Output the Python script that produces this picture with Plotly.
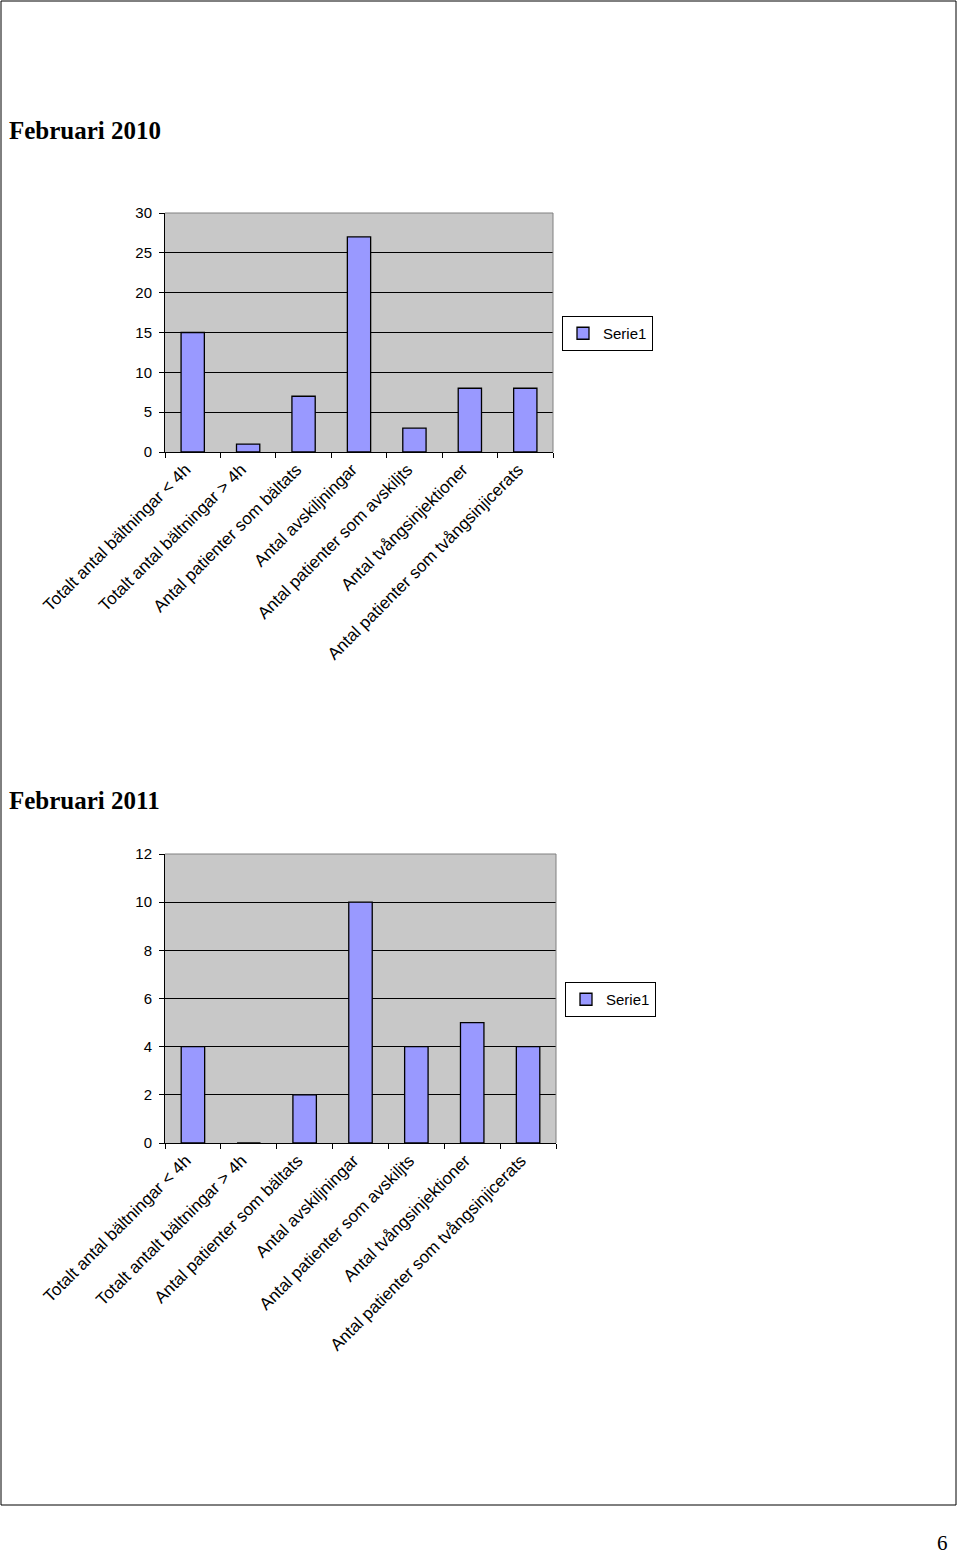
import plotly.graph_objects as go

W, H = 960, 1554

cats_2010 = ["Totalt antal bältningar < 4h", "Totalt antal bältningar > 4h",
             "Antal patienter som bältats", "Antal avskiljningar",
             "Antal patienter som avskiljts", "Antal tvångsinjektioner",
             "Antal patienter som tvångsinjicerats"]
vals_2010 = [15, 1, 7, 27, 3, 8, 8]

cats_2011 = ["Totalt antal bältningar < 4h", "Totalt antalt bältningar > 4h",
             "Antal patienter som bältats", "Antal avskiljningar",
             "Antal patienter som avskiljts", "Antal tvångsinjektioner",
             "Antal patienter som tvångsinjicerats"]
vals_2011 = [4, 0, 2, 10, 4, 5, 4]

series_name = "Serie1"
title_2010 = "Februari 2010"
title_2011 = "Februari 2011"
page_no = "6"

BAR = "#9999FF"
BG = "#c8c8c8"
FONT = "Liberation Sans, Arial, sans-serif"

def px_x(p):
    return p / W

def px_y(p):
    return 1 - p / H

fig = go.Figure()
fig.add_trace(go.Bar(x=cats_2010, y=vals_2010, name=series_name, xaxis="x", yaxis="y",
                     marker=dict(color=BAR, line=dict(color="black", width=1.3)),
                     legend="legend", width=0.42))
fig.add_trace(go.Bar(x=cats_2011, y=vals_2011, name=series_name, xaxis="x2", yaxis="y2",
                     marker=dict(color=BAR, line=dict(color="black", width=1.3)),
                     legend="legend2", width=0.42))

xcommon = dict(type="category", tickangle=-45, tickson="boundaries", ticks="outside",
               ticklen=5, tickcolor="black", showline=True, linecolor="black", linewidth=1,
               showgrid=False, automargin=False, ticklabelshift=-7,
               tickfont=dict(family=FONT, size=17, color="black"), fixedrange=True)
ycommon = dict(ticks="outside", ticklen=5, tickcolor="black", showline=True, linecolor="black",
               linewidth=1, showgrid=True, gridcolor="black", gridwidth=1, zeroline=False,
               automargin=False, ticklabelstandoff=4,
               tickfont=dict(family=FONT, size=15, color="black"), fixedrange=True)

y1 = [px_y(452), px_y(213)]
y2 = [px_y(1143), px_y(854)]

fig.update_layout(
    width=W, height=H, margin=dict(l=0, r=0, t=0, b=0, autoexpand=False),
    paper_bgcolor="white", plot_bgcolor=BG, showlegend=True,
    xaxis=dict(domain=[px_x(165), px_x(553)], anchor="y", **xcommon),
    yaxis=dict(domain=y1, anchor="x", range=[0, 30], dtick=5, **ycommon),
    xaxis2=dict(domain=[px_x(165), px_x(556)], anchor="y2", **xcommon),
    yaxis2=dict(domain=y2, anchor="x2", range=[0, 12], dtick=2, **ycommon),
    legend=dict(x=px_x(562), y=px_y(316), xanchor="left", yanchor="top",
                bordercolor="black", borderwidth=1, bgcolor="white", itemwidth=30,
                font=dict(family=FONT, size=15, color="black")),
    legend2=dict(x=px_x(565), y=px_y(982), xanchor="left", yanchor="top",
                 bordercolor="black", borderwidth=1, bgcolor="white", itemwidth=30,
                 font=dict(family=FONT, size=15, color="black")),
    shapes=[
        dict(type="rect", xref="paper", yref="paper", x0=px_x(1), x1=px_x(956),
             y0=px_y(1505), y1=px_y(1), line=dict(color="black", width=1)),
        dict(type="line", xref="x domain", yref="y domain", x0=0, x1=1, y0=1, y1=1,
             line=dict(color="#808080", width=1)),
        dict(type="line", xref="x domain", yref="y domain", x0=1, x1=1, y0=0, y1=1,
             line=dict(color="#808080", width=1)),
        dict(type="line", xref="x2 domain", yref="y2 domain", x0=0, x1=1, y0=1, y1=1,
             line=dict(color="#808080", width=1)),
        dict(type="line", xref="x2 domain", yref="y2 domain", x0=1, x1=1, y0=0, y1=1,
             line=dict(color="#808080", width=1)),
    ],
    annotations=[
        dict(text="<b>" + title_2010 + "</b>", xref="paper", yref="paper",
             x=px_x(7), y=px_y(131), xanchor="left", yanchor="middle", showarrow=False,
             font=dict(family="Liberation Serif, Times New Roman, serif", size=25, color="black")),
        dict(text="<b>" + title_2011 + "</b>", xref="paper", yref="paper",
             x=px_x(7), y=px_y(800), xanchor="left", yanchor="middle", showarrow=False,
             font=dict(family="Liberation Serif, Times New Roman, serif", size=25, color="black")),
        dict(text=page_no, xref="paper", yref="paper",
             x=px_x(942), y=px_y(1543), xanchor="center", yanchor="middle", showarrow=False,
             font=dict(family="Liberation Serif, Times New Roman, serif", size=21, color="black")),
    ],
)

fig.write_html("out.html", config={"displayModeBar": False},
               post_script="document.body.style.margin='0';document.body.style.padding='0';")
